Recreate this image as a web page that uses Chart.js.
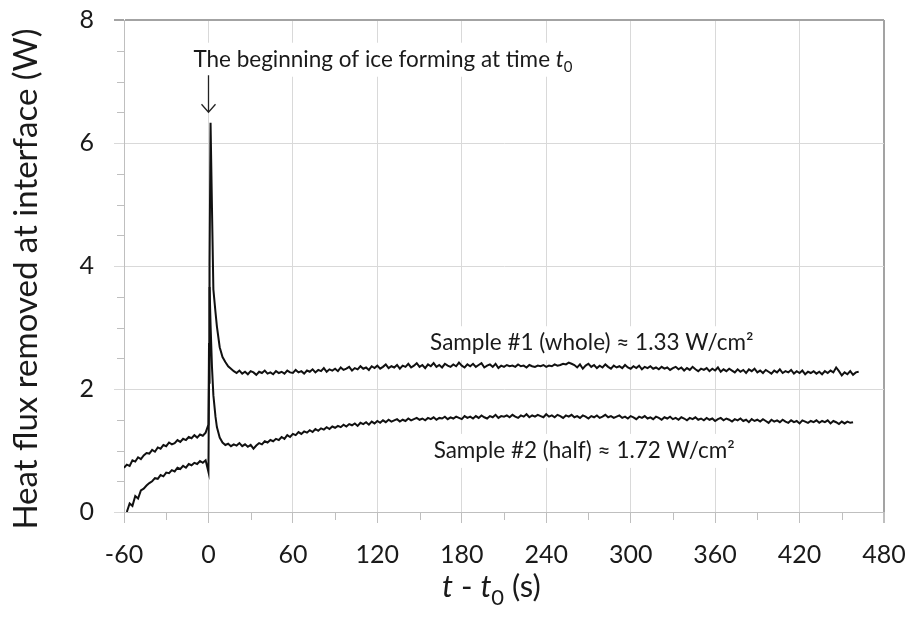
<!DOCTYPE html>
<html>
<head>
<meta charset="utf-8">
<script src="https://cdn.jsdelivr.net/npm/chart.js@4.4.0/dist/chart.umd.min.js"></script>
<style>
  html, body { margin: 0; padding: 0; background: #fff; }
  #chart { display: block; }
</style>
</head>
<body>
<canvas id="chart" width="911" height="623"></canvas>
<script>
// time relative to ice onset t0 (s)
const times = [
  -60, -58, -56, -54, -52, -50, -48, -46, -44, -42, -40, -38, -36, -34, -32,
  -30, -28, -26, -24, -22, -20, -18, -16, -14, -12, -10, -8, -6, -4, -2,
  0, 0.4, 0.8, 1.5, 2.5, 3.5, 5, 6, 8, 10,
  12, 14, 16, 18, 20, 22, 24, 26, 28, 30, 32, 34, 36, 38, 40, 42, 44, 46, 48, 50,
  52, 54, 56, 58, 60, 62, 64, 66, 68, 70, 72, 74, 76, 78, 80, 82, 84, 86, 88, 90,
  92, 94, 96, 98, 100, 102, 104, 106, 108, 110, 112, 114, 116, 118, 120, 122, 124, 126, 128, 130,
  132, 134, 136, 138, 140, 142, 144, 146, 148, 150, 152, 154, 156, 158, 160, 162, 164, 166, 168, 170,
  172, 174, 176, 178, 180, 182, 184, 186, 188, 190, 192, 194, 196, 198, 200, 202, 204, 206, 208, 210,
  212, 214, 216, 218, 220, 222, 224, 226, 228, 230, 232, 234, 236, 238, 240, 242, 244, 246, 248, 250,
  252, 254, 256, 258, 260, 262, 264, 266, 268, 270, 272, 274, 276, 278, 280, 282, 284, 286, 288, 290,
  292, 294, 296, 298, 300, 302, 304, 306, 308, 310, 312, 314, 316, 318, 320, 322, 324, 326, 328, 330,
  332, 334, 336, 338, 340, 342, 344, 346, 348, 350, 352, 354, 356, 358, 360, 362, 364, 366, 368, 370,
  372, 374, 376, 378, 380, 382, 384, 386, 388, 390, 392, 394, 396, 398, 400, 402, 404, 406, 408, 410,
  412, 414, 416, 418, 420, 422, 424, 426, 428, 430, 432, 434, 436, 438, 440, 442, 444, 446, 448, 450,
  452, 454, 456, 458, 460, 462
];

// Sample #1 (whole), heat flux in W
const sampleWhole = [
  0.72, 0.77, 0.75, 0.84, 0.82, 0.89, 0.86, 0.92, 0.96, 0.95, 1.01, 0.98, 1.05, 1.03, 1.09,
  1.07, 1.13, 1.10, 1.12, 1.17, 1.14, 1.19, 1.17, 1.22, 1.20, 1.25, 1.21, 1.26, 1.24, 1.29,
  1.42, 2.73, 4.04, 6.33, 4.95, 3.62, 3.25, 3.02, 2.68, 2.52,
  2.44, 2.37, 2.33, 2.29, 2.26, 2.30, 2.25, 2.28, 2.24, 2.29, 2.27, 2.23, 2.28, 2.26, 2.30, 2.25, 2.27, 2.24, 2.29, 2.26,
  2.28, 2.25, 2.30, 2.27, 2.26, 2.31, 2.27, 2.29, 2.25, 2.30, 2.28, 2.32, 2.27, 2.31, 2.29, 2.34, 2.28, 2.32, 2.30, 2.33,
  2.29, 2.35, 2.31, 2.33, 2.36, 2.30, 2.34, 2.32, 2.37, 2.33, 2.35, 2.31, 2.37, 2.34, 2.38, 2.33, 2.36, 2.40, 2.34, 2.37,
  2.35, 2.39, 2.33, 2.38, 2.36, 2.41, 2.35, 2.38, 2.42, 2.36, 2.39, 2.34, 2.40, 2.37, 2.42, 2.36, 2.39, 2.35, 2.41, 2.38,
  2.36, 2.40, 2.37, 2.43, 2.38, 2.35, 2.40, 2.37, 2.41, 2.36, 2.39, 2.42, 2.35, 2.38, 2.40, 2.36, 2.41, 2.34, 2.38, 2.36,
  2.39, 2.37, 2.38, 2.36, 2.40, 2.37, 2.38, 2.35, 2.39, 2.37, 2.36, 2.38, 2.37, 2.39, 2.36, 2.38, 2.37, 2.40, 2.38, 2.39,
  2.41, 2.40, 2.43, 2.41, 2.39, 2.35, 2.40, 2.33, 2.38, 2.41, 2.36, 2.39, 2.34, 2.38, 2.35, 2.40, 2.36, 2.33, 2.38, 2.35,
  2.37, 2.34, 2.39, 2.35, 2.33, 2.37, 2.34, 2.38, 2.32, 2.36, 2.34, 2.37, 2.33, 2.35, 2.32, 2.36, 2.33, 2.35, 2.31, 2.34,
  2.36, 2.32, 2.35, 2.30, 2.34, 2.31, 2.36, 2.32, 2.29, 2.33, 2.31, 2.34, 2.29, 2.33, 2.30, 2.35, 2.28, 2.32, 2.29, 2.33,
  2.30, 2.27, 2.32, 2.28, 2.31, 2.26, 2.32, 2.29, 2.33, 2.27, 2.30, 2.26, 2.31, 2.28, 2.25, 2.30, 2.27, 2.32, 2.26, 2.29,
  2.27, 2.31, 2.25, 2.29, 2.26, 2.30, 2.24, 2.28, 2.26, 2.29, 2.25, 2.28, 2.24, 2.29, 2.26, 2.30, 2.27, 2.35, 2.29, 2.22,
  2.27, 2.24, 2.29, 2.23, 2.27, 2.28
];

// Sample #2 (half), heat flux in W
const sampleHalf = [
  null, 0.00, 0.14, 0.10, 0.26, 0.22, 0.35, 0.38, 0.43, 0.47, 0.50, 0.55, 0.54, 0.60, 0.58,
  0.64, 0.63, 0.68, 0.66, 0.72, 0.70, 0.75, 0.72, 0.78, 0.76, 0.80, 0.78, 0.83, 0.80, 0.84,
  0.65, 2.10, 3.66, 3.05, 2.36, 1.90, 1.55, 1.38, 1.21, 1.13,
  1.09, 1.11, 1.07, 1.10, 1.08, 1.12, 1.07, 1.10, 1.06, 1.09, 1.03, 1.08, 1.12, 1.10, 1.15, 1.13, 1.17, 1.15, 1.19, 1.17,
  1.22, 1.19, 1.25, 1.22, 1.27, 1.25, 1.30, 1.27, 1.31, 1.29, 1.33, 1.30, 1.35, 1.32, 1.36, 1.34, 1.38, 1.35, 1.39, 1.37,
  1.40, 1.38, 1.42, 1.39, 1.43, 1.41, 1.44, 1.40, 1.45, 1.43, 1.46, 1.42, 1.47, 1.44, 1.48, 1.45, 1.49, 1.46, 1.50, 1.47,
  1.49, 1.51, 1.47, 1.50, 1.48, 1.52, 1.49, 1.51, 1.53, 1.50, 1.52, 1.49, 1.53, 1.51, 1.54, 1.50, 1.53, 1.52, 1.55, 1.51,
  1.54, 1.52, 1.55, 1.53, 1.51, 1.56, 1.53, 1.55, 1.52, 1.56, 1.53, 1.57, 1.54, 1.52, 1.56, 1.54, 1.58, 1.53, 1.56, 1.55,
  1.57, 1.54, 1.58, 1.55, 1.53, 1.57, 1.55, 1.59, 1.54, 1.57, 1.55, 1.58, 1.56, 1.54, 1.59, 1.55, 1.57, 1.54, 1.58, 1.56,
  1.53, 1.57, 1.55, 1.58, 1.54, 1.56, 1.53, 1.57, 1.55, 1.52, 1.56, 1.54, 1.57, 1.53, 1.55, 1.58, 1.54, 1.56, 1.53, 1.55,
  1.57, 1.53, 1.55, 1.52, 1.56, 1.54, 1.51, 1.55, 1.53, 1.56, 1.52, 1.54, 1.51, 1.55, 1.53, 1.50, 1.54, 1.52, 1.55, 1.51,
  1.53, 1.50, 1.54, 1.52, 1.49, 1.53, 1.51, 1.54, 1.50, 1.52, 1.49, 1.53, 1.50, 1.52, 1.48, 1.51, 1.53, 1.49, 1.52, 1.50,
  1.47, 1.51, 1.49, 1.52, 1.48, 1.50, 1.46, 1.51, 1.48, 1.50, 1.47, 1.51, 1.48, 1.45, 1.50, 1.47, 1.49, 1.46, 1.50, 1.47,
  1.45, 1.49, 1.46, 1.48, 1.44, 1.49, 1.47, 1.45, 1.48, 1.46, 1.49, 1.45, 1.48, 1.46, 1.49, 1.44, 1.48, 1.46, 1.43, 1.47,
  1.44, 1.47, 1.45, 1.46, null, null
];

const xTicks = [-60, 0, 60, 120, 180, 240, 300, 360, 420, 480];
const xMinorTicks = [-30, 30, 90, 150, 210, 270, 330, 390, 450];
const yTicks = [0, 2, 4, 6, 8];
const yMinorTicks = [0.5, 1, 1.5, 2.5, 3, 3.5, 4.5, 5, 5.5, 6.5, 7, 7.5];

const FONT = 'Lato, "Open Sans", sans-serif';
const GRID = '#d9d9d9';
const FRAME = '#a3a3a3';
const AXIS = '#bfbfbf';

function toPoints(vals) {
  return times.map((t, i) => ({ x: t, y: vals[i] }));
}

// draw a run of text pieces (italic t, subscripts ...) starting at x
function runsWidth(ctx, runs) {
  let w = 0;
  runs.forEach(r => { ctx.font = r.font; w += ctx.measureText(r.text).width; });
  return w;
}
function drawRuns(ctx, runs, x, y) {
  runs.forEach(r => {
    ctx.font = r.font;
    ctx.fillText(r.text, x, y + (r.dy || 0));
    x += ctx.measureText(r.text).width;
  });
}

const labelSize = 22.5;
const annotations = [
  { t: -10.7, v: 7.24, runs: [
      { text: 'The beginning of ice forming at time ', font: labelSize + 'px ' + FONT },
      { text: 't', font: 'italic ' + labelSize + 'px ' + FONT },
      { text: '0', font: '15px ' + FONT, dy: 5 }] },
  { t: 157.5, v: 2.63, runs: [
      { text: 'Sample #1 (whole) \u2248 1.33 W/cm\u00b2', font: labelSize + 'px ' + FONT }] },
  { t: 160, v: 0.88, runs: [
      { text: 'Sample #2 (half) \u2248 1.72 W/cm\u00b2', font: labelSize + 'px ' + FONT }] }
];

const decorations = {
  id: 'decorations',
  beforeDatasetsDraw(chart) {
    const { ctx, scales: { x, y } } = chart;
    ctx.save();
    // minor tick marks
    ctx.strokeStyle = AXIS;
    ctx.lineWidth = 1;
    ctx.beginPath();
    xMinorTicks.forEach(v => {
      const px = Math.round(x.getPixelForValue(v)) + 0.5;
      ctx.moveTo(px, y.bottom);
      ctx.lineTo(px, y.bottom + 8);
    });
    yMinorTicks.forEach(v => {
      const py = Math.round(y.getPixelForValue(v)) + 0.5;
      ctx.moveTo(x.left - 7, py);
      ctx.lineTo(x.left, py);
    });
    ctx.stroke();

    // text labels on white boxes
    ctx.textBaseline = 'alphabetic';
    ctx.textAlign = 'left';
    annotations.forEach(a => {
      const px = x.getPixelForValue(a.t);
      const py = y.getPixelForValue(a.v);
      const w = runsWidth(ctx, a.runs);
      ctx.fillStyle = '#fff';
      ctx.fillRect(px - 4, py - 24, w + 8, 34);
      ctx.fillStyle = '#1a1a1a';
      drawRuns(ctx, a.runs, px, py);
    });

    // arrow pointing at t0
    const ax = Math.round(x.getPixelForValue(0)) + 0.5;
    const top = y.getPixelForValue(7.1);
    const tip = y.getPixelForValue(6.5);
    ctx.strokeStyle = '#222';
    ctx.lineWidth = 1.3;
    ctx.beginPath();
    ctx.moveTo(ax, top);
    ctx.lineTo(ax, tip);
    ctx.moveTo(ax - 7, tip - 8);
    ctx.lineTo(ax, tip);
    ctx.lineTo(ax + 7, tip - 8);
    ctx.stroke();
    ctx.restore();
  },
  afterDraw(chart) {
    const { ctx } = chart;
    ctx.save();
    ctx.fillStyle = '#1a1a1a';
    // y axis title
    ctx.translate(37, 279);
    ctx.rotate(-Math.PI / 2);
    ctx.textAlign = 'center';
    ctx.textBaseline = 'alphabetic';
    ctx.font = '33px ' + FONT;
    ctx.fillText('Heat flux removed at interface (W)', 0, 0);
    ctx.restore();

    // x axis title: t - t0 (s)
    ctx.save();
    ctx.fillStyle = '#1a1a1a';
    ctx.textAlign = 'left';
    ctx.textBaseline = 'alphabetic';
    const runs = [
      { text: 't', font: 'italic 31px ' + FONT },
      { text: ' - ', font: '31px ' + FONT },
      { text: 't', font: 'italic 31px ' + FONT },
      { text: '0', font: '22px ' + FONT, dy: 8 },
      { text: ' (s)', font: '31px ' + FONT }
    ];
    drawRuns(ctx, runs, 442, 597);
    ctx.restore();
  }
};

new Chart(document.getElementById('chart'), {
  type: 'line',
  data: {
    datasets: [
      { label: 'Sample #1 (whole)', data: toPoints(sampleWhole) },
      { label: 'Sample #2 (half)', data: toPoints(sampleHalf) }
    ]
  },
  options: {
    responsive: false,
    animation: false,
    events: [],
    layout: { padding: { top: 20, right: 27, left: 0, bottom: 0 } },
    elements: {
      line: { borderColor: '#111', borderWidth: 2, tension: 0 },
      point: { radius: 0 }
    },
    plugins: { legend: { display: false }, tooltip: { enabled: false } },
    scales: {
      x: {
        type: 'linear',
        min: -60,
        max: 480,
        afterBuildTicks: s => { s.ticks = xTicks.map(v => ({ value: v })); },
        afterFit: s => { s.height = 111; s.paddingLeft = 0; s.paddingRight = 0; },
        ticks: { font: { family: FONT, size: 25 }, color: '#1a1a1a', padding: 17, maxRotation: 0, autoSkip: false },
        grid: {
          color: c => (c.tick && c.tick.value === 480 ? FRAME : GRID),
          lineWidth: c => (c.tick && c.tick.value === 480 ? 2 : 1),
          tickColor: AXIS,
          tickLength: 11
        },
        border: { color: AXIS, width: 1 }
      },
      y: {
        min: 0,
        max: 8,
        afterBuildTicks: s => { s.ticks = yTicks.map(v => ({ value: v })); },
        afterFit: s => { s.width = 124; s.paddingTop = 0; s.paddingBottom = 0; },
        ticks: { font: { family: FONT, size: 25 }, color: '#1a1a1a', padding: 20 },
        grid: {
          color: c => (c.tick && c.tick.value === 8 ? FRAME : GRID),
          lineWidth: c => (c.tick && c.tick.value === 8 ? 2 : 1),
          tickColor: c => (c.tick && c.tick.value === 8 ? FRAME : GRID),
          tickLength: 10
        },
        border: { color: AXIS, width: 1 }
      }
    }
  },
  plugins: [decorations]
});
</script>
</body>
</html>
